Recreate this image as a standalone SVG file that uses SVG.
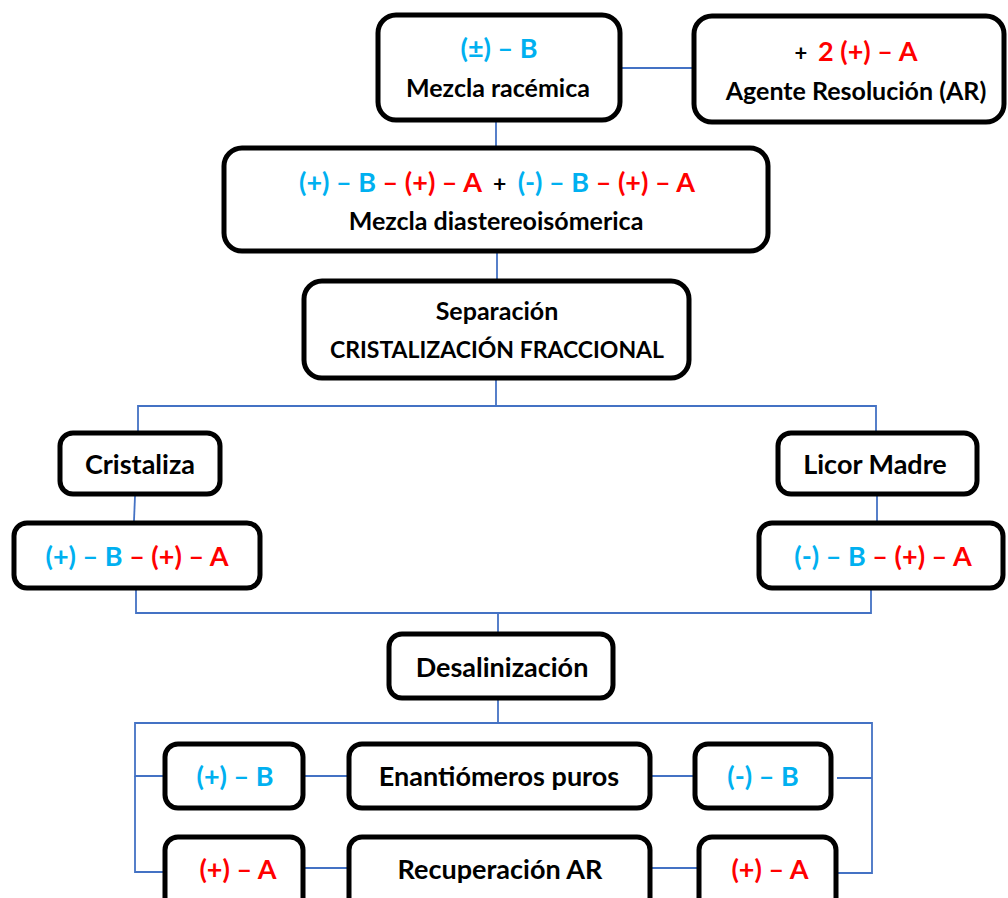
<svg xmlns="http://www.w3.org/2000/svg" width="1008" height="898" viewBox="0 0 1008 898">
  <style>
    .box { fill: #ffffff; stroke: #000000; stroke-width: 5; }
    .wire { fill: none; stroke: #4472C4; stroke-width: 1.8; }
    text { font-family: "Lato", "Open Sans", "Liberation Sans", sans-serif; font-weight: bold; font-size: 25px; fill: #000000; text-anchor: middle; }
    .big { font-size: 27px; }
    .caps { font-size: 23px; }
    .f { font-size: 27px; }
    .b { fill: #00B0F0; }
    .r { fill: #FF0000; }
    .k { fill: #000000; }
  </style>

  <!-- connectors -->
  <g id="connectors">
    <line class="wire" x1="621" y1="68" x2="692" y2="68"/>
    <line class="wire" x1="496" y1="121" x2="496" y2="147"/>
    <line class="wire" x1="497" y1="253" x2="497" y2="279"/>
    <polyline class="wire" points="138,432 138,406 876,406 876,432"/>
    <line class="wire" x1="496" y1="380" x2="496" y2="406"/>
    <line class="wire" x1="135" y1="496" x2="134" y2="521"/>
    <line class="wire" x1="877" y1="496" x2="877" y2="521"/>
    <polyline class="wire" points="136,590 136,613 871,613 871,590"/>
    <line class="wire" x1="498" y1="613" x2="498" y2="633"/>
    <line class="wire" x1="498" y1="700" x2="498" y2="723"/>
    <polyline class="wire" points="165,776 135,776 135,723 872,723 872,873 835,873"/>
    <polyline class="wire" points="135,776 135,872 165,872"/>
    <line class="wire" x1="837" y1="778" x2="872" y2="778"/>
    <line class="wire" x1="305" y1="776" x2="347" y2="776"/>
    <line class="wire" x1="652" y1="776" x2="693" y2="776"/>
    <line class="wire" x1="305" y1="868" x2="347" y2="868"/>
    <line class="wire" x1="652" y1="868" x2="697" y2="868"/>
  </g>

  <g id="racemic">
    <rect class="box" x="378" y="15" width="242" height="105" rx="18"/>
    <text class="f" x="499" y="58"><tspan class="b">(±) – B</tspan></text>
    <text x="498" y="97">Mezcla racémica</text>
  </g>

  <g id="resolving-agent">
    <rect class="box" x="694" y="16" width="310" height="106" rx="18"/>
    <text class="f" x="856" y="61" xml:space="preserve"><tspan class="k" font-size="22">+  </tspan><tspan class="r">2 (+) – A</tspan></text>
    <text x="856" y="100">Agente Resolución (AR)</text>
  </g>

  <g id="diastereomers">
    <rect class="box" x="224" y="148" width="544" height="103" rx="18"/>
    <text class="f" x="497" y="192" xml:space="preserve"><tspan class="b">(+) – B </tspan><tspan class="r">– (+) – A</tspan><tspan class="k" font-size="23">  +  </tspan><tspan class="b">(-) – B </tspan><tspan class="r">– (+) – A</tspan></text>
    <text x="496" y="230">Mezcla diastereoisómerica</text>
  </g>

  <g id="separation">
    <rect class="box" x="304" y="281" width="385" height="97" rx="18"/>
    <text x="497" y="320">Separación</text>
    <text class="caps" x="497" y="358">CRISTALIZACIÓN FRACCIONAL</text>
  </g>

  <g id="crystallizes">
    <rect class="box" x="60" y="433" width="160" height="61" rx="13"/>
    <text class="big" x="140" y="474">Cristaliza</text>
  </g>

  <g id="mother-liquor">
    <rect class="box" x="778" y="433" width="199" height="61" rx="13"/>
    <text class="big" x="875" y="474">Licor Madre</text>
  </g>

  <g id="salt-plus">
    <rect class="box" x="14" y="523" width="246" height="65" rx="13"/>
    <text class="f" x="137" y="566"><tspan class="b">(+) – B </tspan><tspan class="r">– (+) – A</tspan></text>
  </g>

  <g id="salt-minus">
    <rect class="box" x="759" y="523" width="244" height="65" rx="13"/>
    <text class="f" x="883" y="566"><tspan class="b">(-) – B </tspan><tspan class="r">– (+) – A</tspan></text>
  </g>

  <g id="desalting">
    <rect class="box" x="389" y="634" width="224" height="64" rx="13"/>
    <text class="big" x="502" y="677">Desalinización</text>
  </g>

  <g id="base-plus">
    <rect class="box" x="165" y="744" width="138" height="64" rx="13"/>
    <text class="f" x="235" y="786"><tspan class="b">(+) – B</tspan></text>
  </g>

  <g id="pure-enantiomers">
    <rect class="box" x="349" y="744" width="301" height="64" rx="13"/>
    <text class="big" x="499" y="786">Enantiómeros puros</text>
  </g>

  <g id="base-minus">
    <rect class="box" x="695" y="744" width="136" height="64" rx="13"/>
    <text class="f" x="763" y="786"><tspan class="b">(-) – B</tspan></text>
  </g>

  <g id="agent-left">
    <rect class="box" x="165" y="837" width="138" height="80" rx="13"/>
    <text class="f" x="238" y="879"><tspan class="r">(+) – A</tspan></text>
  </g>

  <g id="agent-recovery">
    <rect class="box" x="349" y="837" width="301" height="80" rx="13"/>
    <text class="big" x="500" y="879">Recuperación AR</text>
  </g>

  <g id="agent-right">
    <rect class="box" x="699" y="837" width="137" height="80" rx="13"/>
    <text class="f" x="770" y="879"><tspan class="r">(+) – A</tspan></text>
  </g>
</svg>
